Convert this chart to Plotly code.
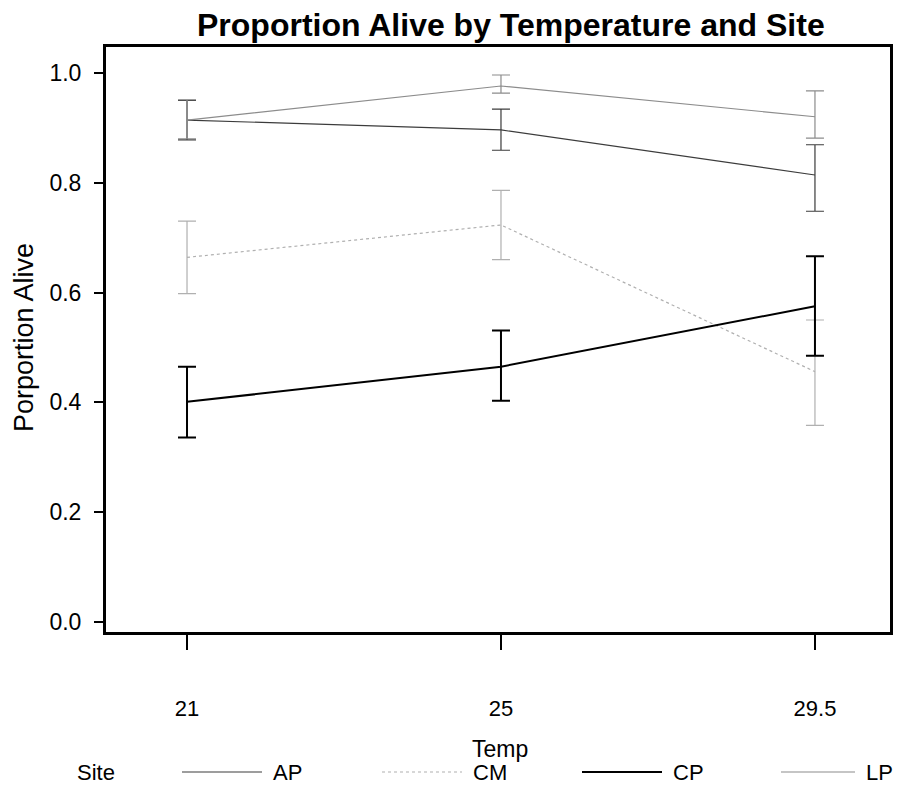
import plotly.graph_objects as go

temps = ["21", "25", "29.5"]
sites = ["AP", "CM", "CP", "LP"]

ap_mean = [0.914, 0.896, 0.814]
ap_upper = [0.950, 0.934, 0.869]
ap_lower = [0.878, 0.859, 0.748]

cm_mean = [0.664, 0.723, 0.456]
cm_upper = [0.730, 0.786, 0.550]
cm_lower = [0.598, 0.660, 0.358]

cp_mean = [0.401, 0.465, 0.575]
cp_upper = [0.465, 0.531, 0.666]
cp_lower = [0.336, 0.403, 0.485]

lp_mean = [0.914, 0.976, 0.920]
lp_upper = [0.951, 0.996, 0.967]
lp_lower = [0.880, 0.963, 0.881]

y_ticks = [0, 0.2, 0.4, 0.6, 0.8, 1.0]
y_tick_labels = ["0.0", "0.2", "0.4", "0.6", "0.8", "1.0"]

series = {
    "AP": (ap_mean, ap_upper, ap_lower),
    "CM": (cm_mean, cm_upper, cm_lower),
    "CP": (cp_mean, cp_upper, cp_lower),
    "LP": (lp_mean, lp_upper, lp_lower),
}
styles = {
    "AP": dict(color="#3c3c3c", width=1.2, dash="solid"),
    "CM": dict(color="#b0b0b0", width=1.2, dash="dot"),
    "CP": dict(color="#000000", width=2.0, dash="solid"),
    "LP": dict(color="#8c8c8c", width=1.2, dash="solid"),
}

# the page body adds an 8px margin; keep the figure inside the viewport
OFF = 8
W, H = 901 - 2 * OFF, 795 - 2 * OFF
L, R, T, B = 106 - OFF, 890 - OFF, 47 - OFF, 632 - OFF
LEG_Y = 772


def px(x):
    return (x - OFF - L) / (R - L)


def py(y):
    return (B - (y - OFF)) / (B - T)


fig = go.Figure()
for s in sites:
    m, u, l = series[s]
    st = styles[s]
    fig.add_trace(go.Scatter(
        x=temps, y=m, mode="lines", name=s, showlegend=False,
        line=dict(color=st["color"], width=st["width"], dash=st["dash"]),
        error_y=dict(type="data", symmetric=False,
                     array=[a - b for a, b in zip(u, m)],
                     arrayminus=[b - c for b, c in zip(m, l)],
                     color=st["color"], thickness=st["width"], width=9),
    ))

font = "Liberation Sans, Arial, sans-serif"

annotations = [
    dict(text="<b>Proportion Alive by Temperature and Site</b>", x=px(511), y=py(25),
         xref="paper", yref="paper", showarrow=False, xanchor="center", yanchor="middle",
         font=dict(family=font, size=32, color="black")),
    dict(text="Temp", x=px(500), y=py(749), xref="paper", yref="paper", showarrow=False,
         xanchor="center", yanchor="middle", font=dict(family=font, size=23, color="black")),
    dict(text="Porportion Alive", x=px(24), y=py(338), xref="paper", yref="paper",
         showarrow=False, textangle=-90, xanchor="center", yanchor="middle",
         font=dict(family=font, size=27, color="black")),
    dict(text="Site", x=px(96), y=py(LEG_Y), xref="paper", yref="paper", showarrow=False,
         xanchor="center", yanchor="middle", font=dict(family=font, size=22, color="black")),
]
shapes = []
legend_pos = {"AP": (182, 262), "CM": (382, 462), "CP": (582, 662), "LP": (781, 855)}
for s in sites:
    x0, x1 = legend_pos[s]
    st = styles[s]
    shapes.append(dict(type="line", xref="paper", yref="paper", x0=px(x0), x1=px(x1),
                       y0=py(LEG_Y), y1=py(LEG_Y),
                       line=dict(color=st["color"], width=st["width"], dash=st["dash"])))
    annotations.append(dict(text=s, x=px(x1 + 9), y=py(LEG_Y), xref="paper", yref="paper",
                            showarrow=False, xanchor="left", yanchor="middle",
                            font=dict(family=font, size=22, color="black")))

fig.update_layout(
    width=W, height=H,
    margin=dict(l=L, r=W - R, t=T, b=H - B, autoexpand=False),
    paper_bgcolor="white", plot_bgcolor="white",
    font=dict(family=font, size=22, color="black"),
    showlegend=False,
    xaxis=dict(type="category", range=[-0.258, 2.239],
               showline=True, linewidth=3, linecolor="black", mirror=True,
               ticks="outside", ticklen=15, tickwidth=1.5, tickcolor="black",
               tickfont=dict(family=font, size=22, color="black"),
               ticklabelstandoff=40,
               showgrid=False, zeroline=False, automargin=False),
    yaxis=dict(range=[-0.018, 1.047],
               tickvals=y_ticks, ticktext=y_tick_labels,
               showline=True, linewidth=3, linecolor="black", mirror=True,
               ticks="outside", ticklen=9, tickwidth=1.5, tickcolor="black",
               tickfont=dict(family=font, size=23, color="black"),
               ticklabelstandoff=8,
               showgrid=False, zeroline=False, automargin=False),
    annotations=annotations,
    shapes=shapes,
)

fig.write_html("out.html")
